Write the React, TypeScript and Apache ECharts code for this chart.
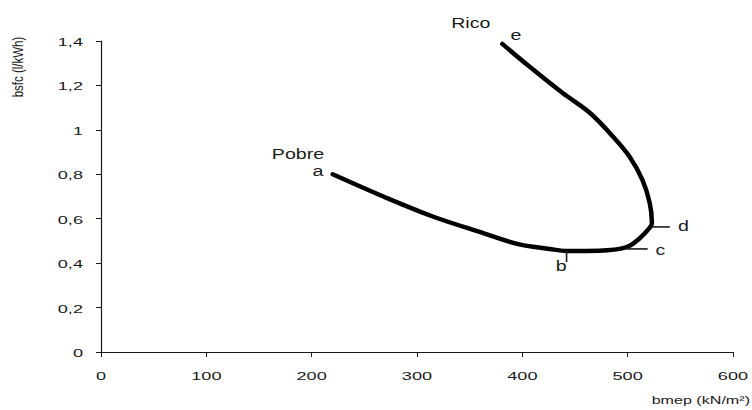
import React, { useEffect, useRef } from "react";
import * as echarts from "echarts";

const curveBmep = [220, 268, 315, 363, 395, 426, 442, 473, 499, 511, 521, 523, 521, 514, 502, 486, 464, 438, 407, 381];
const curveBsfc = [0.8, 0.7, 0.61, 0.535, 0.487, 0.464, 0.455, 0.456, 0.472, 0.51, 0.56, 0.58, 0.67, 0.775, 0.878, 0.97, 1.077, 1.167, 1.284, 1.387];

const labelTexts = ["Pobre", "a", "Rico", "e", "b", "c", "d"];
const labelBmep = [187, 206, 351, 394, 437, 531, 553];
const labelBsfc = [0.891, 0.813, 1.477, 1.425, 0.384, 0.455, 0.563];

const tickB = [[442, 0.455], [442, 0.405]];
const tickC = [[499, 0.464], [519, 0.464]];
const tickD = [[521, 0.563], [540, 0.563]];

const xTicks = [0, 100, 200, 300, 400, 500, 600];
const yTicks = [0, 0.2, 0.4, 0.6, 0.8, 1, 1.2, 1.4];
const yTickLabels = ["0", "0,2", "0,4", "0,6", "0,8", "1", "1,2", "1,4"];

const FONT = "'Liberation Sans', Arial, sans-serif";
const INK = "#1a1a1a";
const STRETCH = 1.65;

export default function App() {
  const ref = useRef<HTMLDivElement>(null);
  useEffect(() => {
    if (!ref.current) return;
    const chart = echarts.init(ref.current, null, { renderer: "svg" });
    const curve = curveBmep.map((x, i) => [x, curveBsfc[i]]);
    const tickSeries = (d: number[][]) => ({
      type: "line",
      data: d,
      symbol: "none",
      lineStyle: { color: INK, width: 1.6 },
      silent: true,
      clip: false,
    });
    chart.setOption({
      animation: false,
      backgroundColor: "#ffffff",
      grid: { left: 101, right: 19, top: 41, bottom: 58, containLabel: false },
      xAxis: {
        type: "value",
        min: xTicks[0],
        max: xTicks[xTicks.length - 1],
        interval: 100,
        axisLine: { show: true, lineStyle: { color: INK, width: 1.2 } },
        axisTick: { show: true, length: 5, lineStyle: { color: INK } },
        axisLabel: { show: false },
        splitLine: { show: false },
      },
      yAxis: {
        type: "value",
        min: yTicks[0],
        max: yTicks[yTicks.length - 1],
        interval: 0.2,
        axisLine: { show: true, lineStyle: { color: INK, width: 1.2 } },
        axisTick: { show: true, length: 5, lineStyle: { color: INK } },
        axisLabel: { show: false },
        splitLine: { show: false },
      },
      series: [
        {
          type: "line",
          data: curve,
          smooth: 0.35,
          symbol: "none",
          lineStyle: { color: "#000", width: 4.5, cap: "round" },
          silent: true,
        },
        tickSeries(tickB),
        tickSeries(tickC),
        tickSeries(tickD),
      ],
    });

    const toPx = (x: number, y: number) =>
      chart.convertToPixel({ gridIndex: 0 }, [x, y]) as number[];
    const graphics: any[] = [];
    xTicks.forEach((v) => {
      const [px] = toPx(v, 0);
      graphics.push({
        type: "text",
        x: px,
        y: 376,
        scaleX: STRETCH,
        silent: true,
        style: { text: String(v), fontFamily: FONT, fontSize: 11, fill: INK, align: "center", verticalAlign: "middle" },
      });
    });
    yTicks.forEach((v, i) => {
      const [, py] = toPx(0, v);
      graphics.push({
        type: "text",
        x: 83,
        y: py + 1,
        scaleX: STRETCH,
        silent: true,
        style: { text: yTickLabels[i], fontFamily: FONT, fontSize: 11, fill: INK, align: "right", verticalAlign: "middle" },
      });
    });
    labelTexts.forEach((t, i) => {
      const [px, py] = toPx(labelBmep[i], labelBsfc[i]);
      graphics.push({
        type: "text",
        x: px,
        y: py,
        scaleX: 1.4,
        silent: true,
        style: { text: t, fontFamily: FONT, fontSize: 14, fill: INK, align: "center", verticalAlign: "middle" },
      });
    });
    graphics.push({
      type: "text",
      x: 18,
      y: 67,
      rotation: Math.PI / 2,
      scaleY: 1.3,
      silent: true,
      style: { text: "bsfc (l/kWh)", fontFamily: FONT, fontSize: 11.5, fill: INK, align: "center", verticalAlign: "middle" },
    });
    graphics.push({
      type: "text",
      x: 750,
      y: 400,
      scaleX: 1.4,
      silent: true,
      style: { text: "bmep (kN/m²)", fontFamily: FONT, fontSize: 11.5, fill: INK, align: "right", verticalAlign: "middle" },
    });
    chart.setOption({ graphic: graphics });

    return () => chart.dispose();
  }, []);
  return (
    <div
      ref={ref}
      style={{ position: "fixed", left: 0, top: 0, width: 752, height: 410, background: "#fff" }}
    />
  );
}
